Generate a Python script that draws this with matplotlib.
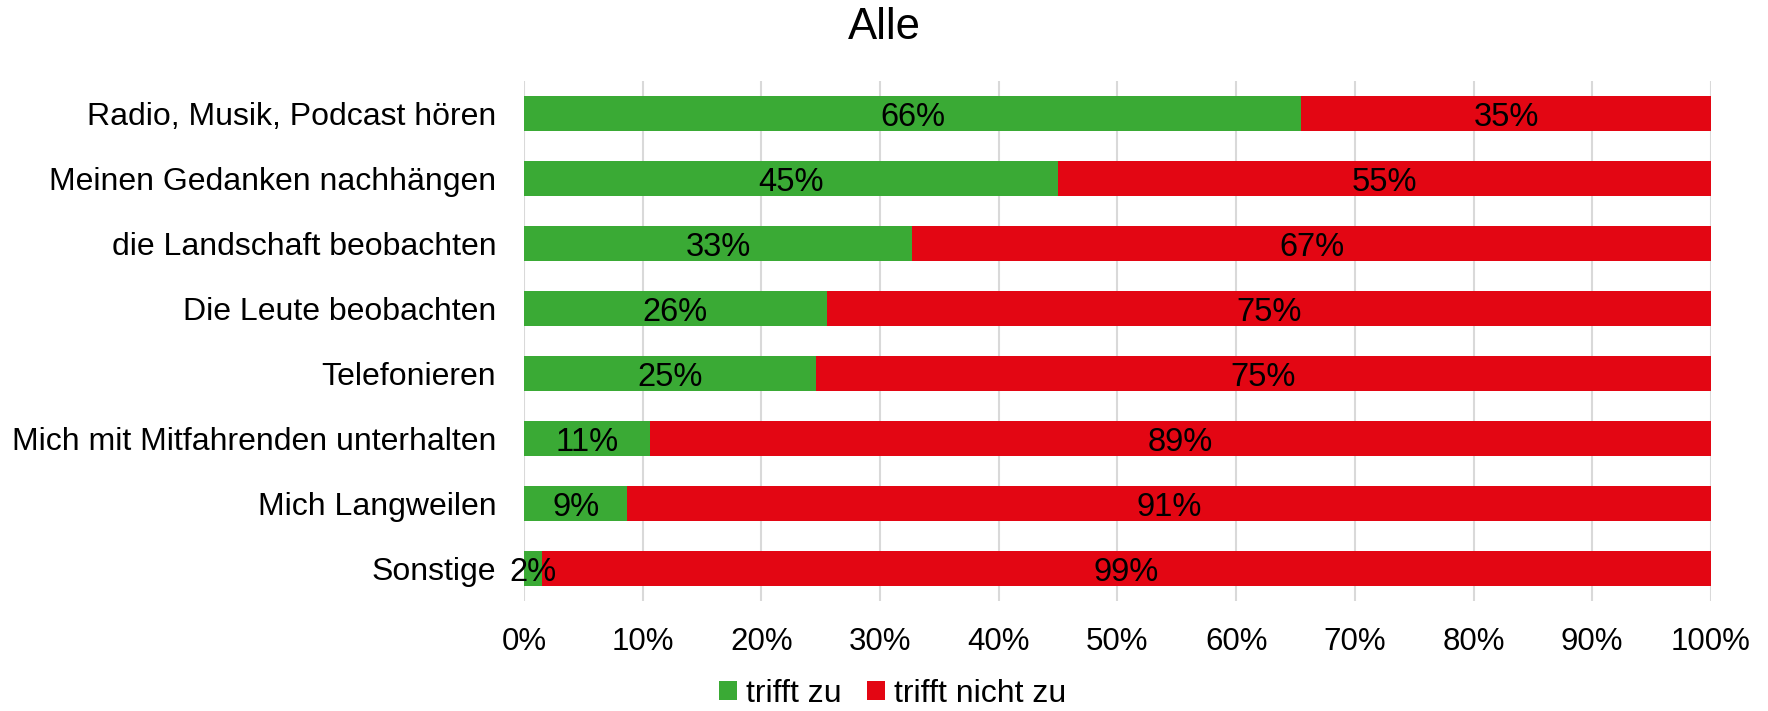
import math
import matplotlib
matplotlib.use("Agg")
import matplotlib.pyplot as plt
from matplotlib.patches import Patch

# Survey results (percent of respondents)
categories = [
    "Radio, Musik, Podcast hören",
    "Meinen Gedanken nachhängen",
    "die Landschaft beobachten",
    "Die Leute beobachten",
    "Telefonieren",
    "Mich mit Mitfahrenden unterhalten",
    "Mich Langweilen",
    "Sonstige",
]
trifft_zu = [65.5, 45.0, 32.7, 25.5, 24.6, 10.6, 8.7, 1.5]
trifft_nicht_zu = [34.5, 55.0, 67.3, 74.5, 75.4, 89.4, 91.3, 98.5]
series_names = ["trifft zu", "trifft nicht zu"]
xtick_values = list(range(0, 101, 10))
title = "Alle"

GREEN = "#3AAA35"
RED = "#E30613"
GRID = "#D9D9D9"

BASE_FONT = ["Liberation Sans", "Arial", "DejaVu Sans"]
NARROW_FONT = ["Liberation Sans Narrow", "Liberation Sans", "DejaVu Sans"]
plt.rcParams["font.family"] = BASE_FONT


def pct_label(v):
    # Round half up, as spreadsheet percent formats do
    return f"{math.floor(v + 0.5):.0f}%"


fig = plt.figure(figsize=(17.68, 7.11), dpi=100)
ax = fig.add_axes([0.2964, 0.1547, 0.6713, 0.7313])

y = list(range(len(categories)))
totals = [a + b for a, b in zip(trifft_zu, trifft_nicht_zu)]
share_zu = [a / t * 100 for a, t in zip(trifft_zu, totals)]
share_nicht = [b / t * 100 for b, t in zip(trifft_nicht_zu, totals)]

bar_h = 0.54
ax.barh(y, share_zu, height=bar_h, color=GREEN, zorder=2)
ax.barh(y, share_nicht, left=share_zu, height=bar_h, color=RED, zorder=2)

for yi, g, r, vg, vr in zip(y, share_zu, share_nicht, trifft_zu, trifft_nicht_zu):
    ax.text(g / 2, yi, pct_label(vg), ha="center", va="center_baseline",
            fontsize=23.5, family=NARROW_FONT, color="black", zorder=3)
    ax.text(g + r / 2, yi, pct_label(vr), ha="center", va="center_baseline",
            fontsize=23.5, family=NARROW_FONT, color="black", zorder=3)

ax.set_xlim(0, 100)
ax.set_ylim(len(categories) - 0.5, -0.5)
ax.set_xticks(xtick_values)
ax.set_xticklabels([f"{v}%" for v in xtick_values], fontsize=22.5)
ax.set_yticks(y)
ax.set_yticklabels(categories, fontsize=23)
ax.tick_params(axis="both", length=0)
ax.tick_params(axis="x", pad=19)
ax.tick_params(axis="y", pad=20)
ax.grid(axis="x", color=GRID, linewidth=1.5, zorder=0)
for s in ax.spines.values():
    s.set_visible(False)

fig.text(0.5, 0.99, title, ha="center", va="top", fontsize=31.5)

handles = [Patch(facecolor=GREEN), Patch(facecolor=RED)]
fig.legend(handles, series_names, loc="center", bbox_to_anchor=(0.505, 0.024),
           ncol=2, frameon=False, fontsize=23, handlelength=0.55, handleheight=0.55,
           handletextpad=0.3, columnspacing=0.8, borderaxespad=0)

fig.savefig("out.png", dpi=100)
